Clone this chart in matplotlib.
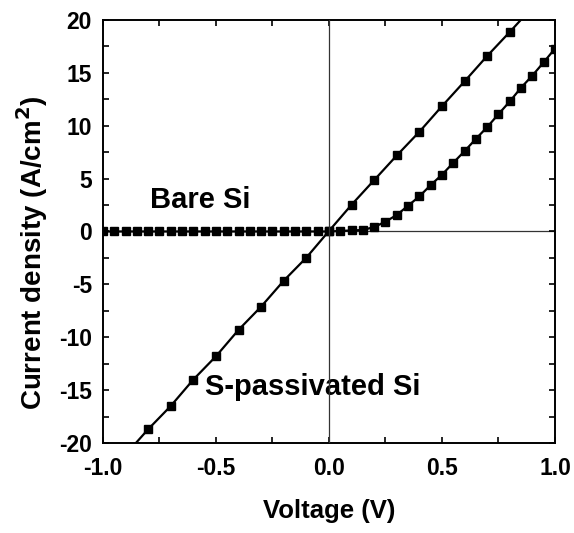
import numpy as np
import matplotlib
matplotlib.use("Agg")
import matplotlib.pyplot as plt
from matplotlib.ticker import MultipleLocator

plt.rcParams['font.family'] = ['Liberation Sans', 'DejaVu Sans']
plt.rcParams['font.weight'] = 'bold'

# linear curve (S-passivated Si), 0.1 V steps
v_lin = [-0.9, -0.8, -0.7, -0.6, -0.5, -0.4, -0.3, -0.2, -0.1, 0.0,
         0.1, 0.2, 0.3, 0.4, 0.5, 0.6, 0.7, 0.8, 0.9]
j_lin = [-21.1, -18.7, -16.5, -14.0, -11.8, -9.3, -7.1, -4.65, -2.47, 0.05,
         2.53, 4.86, 7.19, 9.43, 11.85, 14.2, 16.6, 18.87, 21.2]

# rectifying curve (Bare Si), 0.05 V steps
v_rec = [-1.0, -0.95, -0.9, -0.85, -0.8, -0.75, -0.7, -0.65, -0.6, -0.55,
         -0.5, -0.45, -0.4, -0.35, -0.3, -0.25, -0.2, -0.15, -0.1, -0.05,
         0.0, 0.05, 0.1, 0.15, 0.2, 0.25, 0.3, 0.35, 0.4, 0.45,
         0.5, 0.55, 0.6, 0.65, 0.7, 0.75, 0.8, 0.85, 0.9, 0.95, 1.0]
j_rec = [0.0, 0.0, 0.0, 0.0, 0.0, 0.0, 0.0, 0.0, 0.0, 0.0,
         0.0, 0.0, 0.0, 0.0, 0.0, 0.0, 0.0, 0.0, 0.0, 0.0,
         0.0, 0.05, 0.1, 0.14, 0.42, 0.93, 1.56, 2.44, 3.32, 4.39,
         5.37, 6.5, 7.6, 8.76, 9.87, 11.1, 12.3, 13.6, 14.75, 16.0, 17.3]

xticks = [-1.0, -0.5, 0.0, 0.5, 1.0]
xticklabels = ["-1.0", "-0.5", "0.0", "0.5", "1.0"]
yticks = [-20, -15, -10, -5, 0, 5, 10, 15, 20]
yticklabels = ["-20", "-15", "-10", "-5", "0", "5", "10", "15", "20"]

fig = plt.figure(figsize=(5.74, 5.33), dpi=100)
ax = fig.add_axes([0.1794, 0.1689, 0.7875, 0.7936])

ax.axhline(0, color="#333333", linewidth=0.9, zorder=1)
ax.axvline(0, color="#333333", linewidth=0.9, zorder=4)

ax.plot(v_lin, j_lin, color="black", linewidth=1.6, marker="s", markersize=5.2, zorder=3)
ax.plot(v_rec, j_rec, color="black", linewidth=1.6, marker="s", markersize=5.2, zorder=3)

ax.text(-0.79, 2.2, "Bare Si", fontsize=21, fontweight="bold")
ax.text(-0.55, -15.5, "S-passivated Si", fontsize=21, fontweight="bold", zorder=2)

ax.set_xlim(-1.0, 1.0)
ax.set_ylim(-20, 20)
ax.set_xticks(xticks)
ax.set_xticklabels(xticklabels)
ax.set_yticks(yticks)
ax.set_yticklabels(yticklabels)
ax.xaxis.set_minor_locator(MultipleLocator(0.25))
ax.yaxis.set_minor_locator(MultipleLocator(2.5))

ax.tick_params(which="both", direction="in", top=True, right=True, labelsize=16.5, width=1.2, length=4.5)
ax.tick_params(axis="x", which="major", pad=10)
ax.tick_params(axis="y", which="major", pad=8)
for s in ax.spines.values():
    s.set_linewidth(1.4)

ax.set_xlabel("Voltage (V)", fontsize=18.5, fontweight="bold", labelpad=14)
ax.set_ylabel(r"Current density (A/cm$^\mathbf{2}$)", fontsize=20, fontweight="bold")
ax.yaxis.set_label_coords(-0.118, 0.45)

fig.savefig("out.png", dpi=100)
